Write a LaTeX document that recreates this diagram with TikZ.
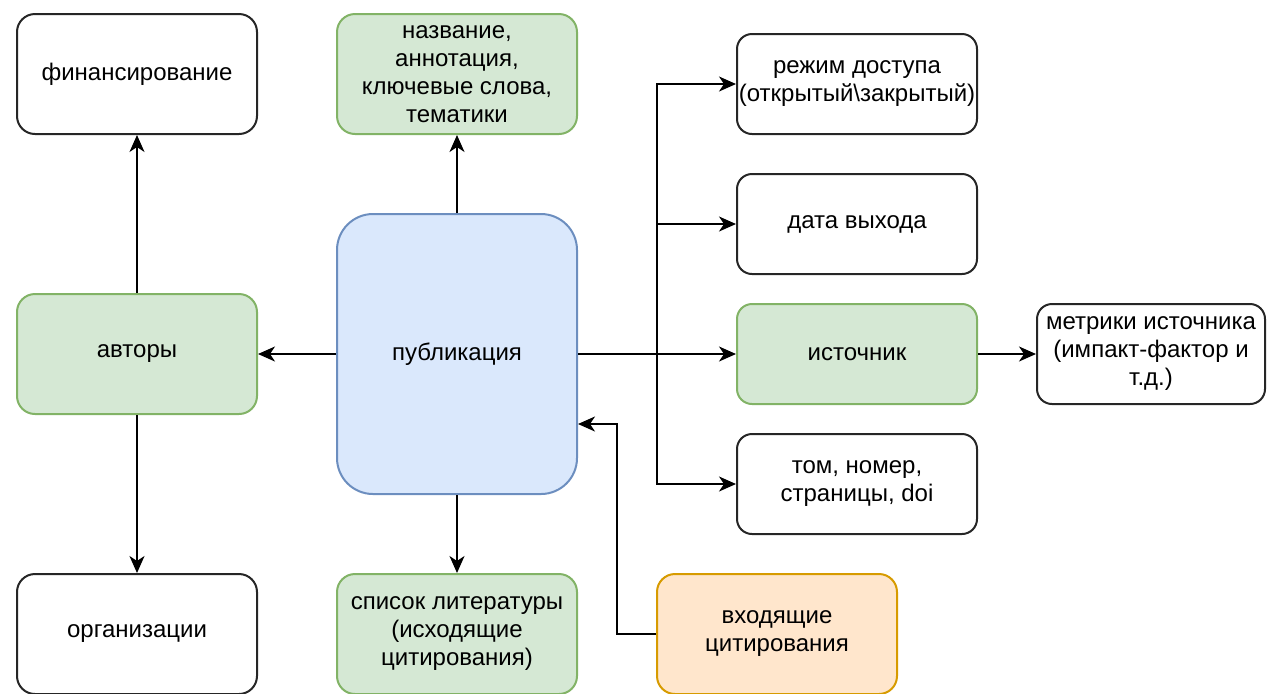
\documentclass[tikz,border=0pt]{standalone}
\usepackage{fontspec}
\setmainfont{Liberation Sans}
\usetikzlibrary{arrows.meta,calc}
\definecolor{gfill}{HTML}{D5E8D4}
\definecolor{gdraw}{HTML}{82B366}
\definecolor{bfill}{HTML}{DAE8FC}
\definecolor{bdraw}{HTML}{6C8EBF}
\definecolor{ofill}{HTML}{FFE6CC}
\definecolor{odraw}{HTML}{D79B00}
\tikzset{
  box/.style={draw=black!85, line width=1pt, fill=white, rounded corners=9pt,
    minimum width=120pt, minimum height=60pt, align=center, inner sep=0.5pt,
    font=\fontsize{12}{14}\selectfont},
  gbox/.style={box, draw=gdraw, fill=gfill},
  bbox/.style={box, draw=bdraw, fill=bfill, rounded corners=18pt, minimum height=140pt},
  obox/.style={box, draw=odraw, fill=ofill},
  sbox/.style={box, minimum height=50pt, rounded corners=7.5pt},
  gsbox/.style={sbox, draw=gdraw, fill=gfill},
  conn/.style={line width=1pt, -{Stealth[length=8.5pt,width=7.5pt,inset=2.5pt]}},
  line/.style={line width=1pt}
}
\begin{document}
\begin{tikzpicture}[x=0.5pt,y=-0.5pt]
\useasboundingbox (0,0) rectangle (1268,693);
\node[box]  (fin)    at (137,74)  {финансирование};
\node[gbox] (nazv)   at (457,74)  {название,\\аннотация,\\ключевые слова,\\тематики};
\node[sbox] (rezhim) at (857,84)  {режим доступа\\(открытый\textbackslash закрытый)};
\node[sbox] (data)   at (857,224) {дата выхода};
\node[bbox] (pub)    at (457,354) {публикация};
\node[gbox] (avt)    at (137,354) {авторы};
\node[gsbox] (ist)   at (857,354) {источник};
\node[sbox, minimum width=114pt] (metr) at (1151,354) {метрики источника\\(импакт-фактор и\\т.д.)};
\node[sbox] (tom)    at (857,484) {том, номер,\\страницы, doi};
\node[box]  (org)    at (137,634) {организации};
\node[gbox] (spisok) at (457,634) {список литературы\\(исходящие\\цитирования)};
\node[obox] (vhod)   at (777,634) {входящие\\цитирования};

\coordinate (tr) at (657,354);
\coordinate (cin) at ($(pub.east)+(0,70)$);
\coordinate (bend) at (617,634);

\draw[conn] (avt.north) -- (fin.south);
\draw[conn] (avt.south) -- (org.north);
\draw[conn] (pub.west) -- (avt.east);
\draw[conn] (pub.north) -- (nazv.south);
\draw[conn] (pub.south) -- (spisok.north);
\draw[conn] (pub.east) -- (ist.west);
\draw[conn] (pub.east) -- (tr) |- (rezhim.west);
\draw[conn] (tr) |- (data.west);
\draw[conn] (tr) |- (tom.west);
\draw[conn] (ist.east) -- (metr.west);
\draw[conn] (vhod.west) -- (bend) |- (cin);
\end{tikzpicture}
\end{document}
